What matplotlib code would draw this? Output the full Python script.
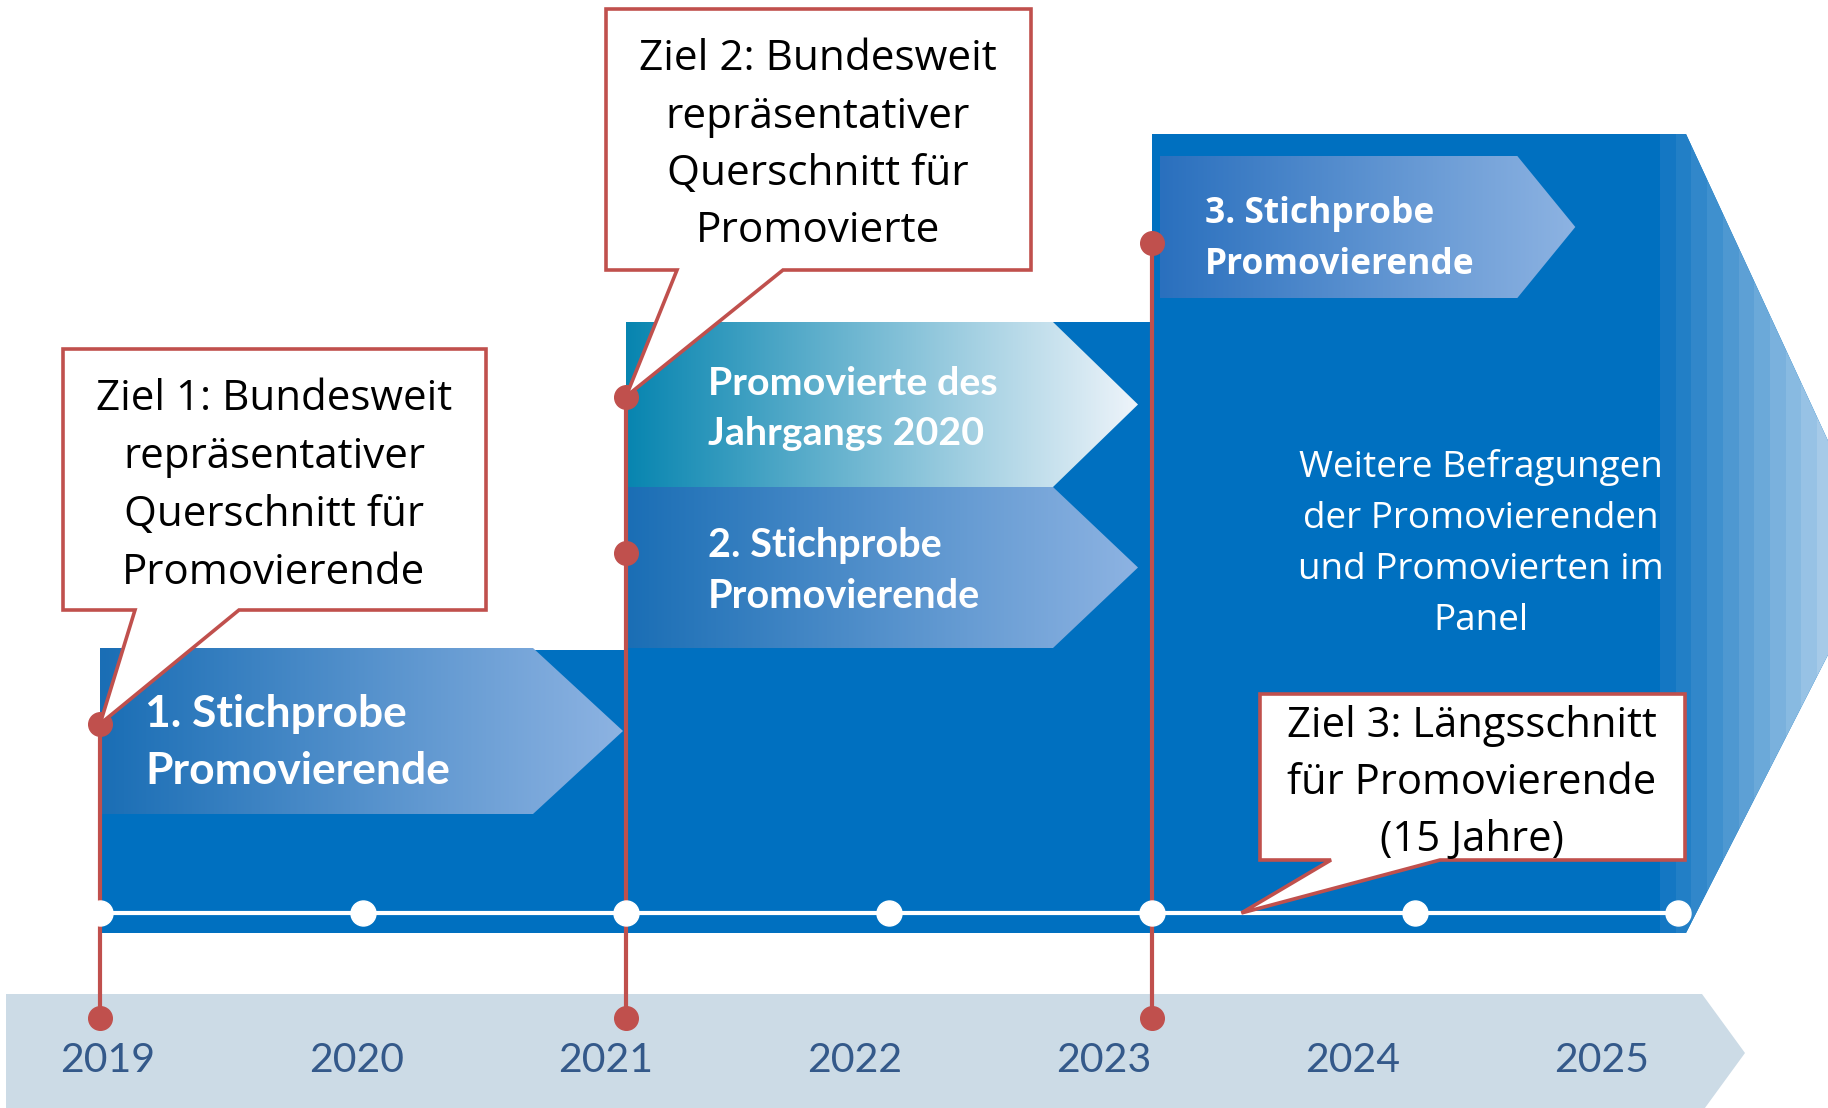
import numpy as np
import matplotlib
matplotlib.use("Agg")
import matplotlib.pyplot as plt
from matplotlib.patches import Polygon
from matplotlib.colors import LinearSegmentedColormap

# --- data ---------------------------------------------------------------
years = [2019, 2020, 2021, 2022, 2023, 2024, 2025]
phase_labels = ["1. Stichprobe\nPromovierende",
                "Promovierte des\nJahrgangs 2020",
                "2. Stichprobe\nPromovierende",
                "3. Stichprobe\nPromovierende"]
phase_start = [2019, 2021, 2021, 2023]
phase_end = [2021, 2023, 2023, 2024.64]
block_start = [2019, 2021, 2023]
goal_labels = ["Ziel 1: Bundesweit\nrepräsentativer\nQuerschnitt für\nPromovierende",
               "Ziel 2: Bundesweit\nrepräsentativer\nQuerschnitt für\nPromovierte",
               "Ziel 3: Längsschnitt\nfür Promovierende\n(15 Jahre)"]
panel_text = "Weitere Befragungen\nder Promovierenden\nund Promovierten im\nPanel"

# --- layout (pixels, y downwards) --------------------------------------
W, H = 1828, 1108
X0, STEP = 100, 263          # timeline: x of 2019 and width of one year
LX0, LSTEP = 108, 249        # year labels on the bottom band
BLUE = "#0070C0"
RED = "#C0504D"
BAND = "#CCDBE6"
YEARC = "#34598A"
TL_Y = 913                   # white timeline
BOT_Y = 1018                 # red dots on the band
BLOCK_BOTTOM = 933
TXT_DY = 4                   # small downward nudge for all text
block_top = [650, 322, 134]
phase_rows = [(648, 814), (322, 487), (487, 648), (156, 298)]
phase_depth = [90, 85, 85, 58]
phase_tip_gap = [3, 14, 14, 8]
phase_pad = [45, 82, 82, 45]
phase_inset = [0, 0, 0, 8]
phase_text_dy = [8, 0, 0, 9]
phase_dot_dy = [-7, -8, -15, 16]
phase_font = ["Lato", "Lato", "Lato", "Open Sans"]
phase_width = [305, 290, 272, 270]
phase_gap = [57, 50, 51, 51]
phase_cols = [("#1A6EB5", "#8DB3E2"), ("#0785B0", "#EEF4FA"),
              ("#1A6EB5", "#8DB3E2"), ("#2A70BE", "#8DB3E2")]
# callouts: left, right, top, bottom, base1, base2, text x, first line y, gap, width
callouts = [(63, 486, 349, 610, 135, 239, 274, 395, 58, 356),
            (606, 1031, 9, 270, 677, 783, 818, 55, 57.5, 357),
            (1260, 1685, 694, 860, 1331, 1440, 1472, 722, 57, 368)]


def year_x(y):
    return X0 + STEP * (y - 2019)


fig = plt.figure(figsize=(W / 100, H / 100), dpi=100)
ax = fig.add_axes([0, 0, 1, 1])
ax.set_xlim(0, W)
ax.set_ylim(H, 0)
ax.axis("off")
renderer = fig.canvas.get_renderer()


def text_lines(x, y0, gap, text, width, **kw):
    objs = [ax.text(x, y0 + TXT_DY + i * gap, ln, va="center", fontsize=20, **kw)
            for i, ln in enumerate(text.split("\n"))]
    w = max(o.get_window_extent(renderer).width for o in objs)
    for o in objs:
        o.set_fontsize(20 * width / w)
    return objs


def gradient(verts, c0, c1, x0, x1, y0, y1, z, steps=256):
    clip = Polygon(verts, closed=True, facecolor="none", edgecolor="none")
    ax.add_patch(clip)
    cmap = LinearSegmentedColormap.from_list("g", [c0, c1])
    im = ax.imshow(np.linspace(0, 1, steps).reshape(1, -1), cmap=cmap,
                   extent=(x0, x1, y1, y0), aspect="auto", zorder=z,
                   interpolation="nearest" if steps < 50 else "bilinear")
    im.set_clip_path(clip)


# bottom band with year labels
ax.add_patch(Polygon([(6, 994), (1702, 994), (1745, 1053), (1702, 1112), (6, 1112)],
                     closed=True, facecolor=BAND, edgecolor="none", zorder=0))
for i, yr in enumerate(years):
    text_lines(LX0 + LSTEP * i, 1057, 0, str(yr), 95, ha="center",
               color=YEARC, family="Lato")

# blue blocks
ends = block_start[1:] + [None]
for s, e, top in zip(block_start, ends, block_top):
    x0 = year_x(s)
    if e is not None:
        verts = [(x0, top), (year_x(e), top), (year_x(e), BLOCK_BOTTOM), (x0, BLOCK_BOTTOM)]
    else:
        xr = year_x(years[-1]) + 8
        verts = [(x0, top), (xr, top), (xr + 194, 553), (xr, BLOCK_BOTTOM), (x0, BLOCK_BOTTOM)]
    ax.add_patch(Polygon(verts, closed=True, facecolor=BLUE, edgecolor="none", zorder=1))
# fading tip of the last block
gradient(verts, "#1477C3", "#D2E4F4", xr - 26, xr + 194, top, BLOCK_BOTTOM, 1.5, steps=14)

# phase arrows
dots = []
for k, lab in enumerate(phase_labels):
    t0, t1 = phase_rows[k]
    x0 = year_x(phase_start[k]) + phase_inset[k]
    tip = year_x(phase_end[k]) - phase_tip_gap[k]
    body = tip - phase_depth[k]
    cy = (t0 + t1) / 2
    dots.append(cy + phase_dot_dy[k])
    verts = [(x0, t0), (body, t0), (tip, cy), (body, t1), (x0, t1)]
    c0, c1 = phase_cols[k]
    gradient(verts, c0, c1, x0, tip, t0, t1, 2)
    text_lines(x0 + phase_pad[k], cy + phase_text_dy[k] - phase_gap[k] / 2,
               phase_gap[k], lab, phase_width[k], ha="left", color="white",
               fontweight="bold", family=phase_font[k], zorder=3)

# text in the open panel
text_lines(1481, 464, 51, panel_text, 366, ha="center", color="white",
           family="Open Sans", zorder=3)

# timeline
ax.plot([year_x(years[0]), year_x(years[-1])], [TL_Y, TL_Y], color="white",
        lw=3, zorder=4, solid_capstyle="butt")
ax.plot([year_x(y) for y in years], [TL_Y] * len(years), "o", color="white",
        ms=18, zorder=6)

# red survey markers
for s in block_start:
    ys = [d for d, p in zip(dots, phase_start) if p == s]
    x = year_x(s)
    ax.plot([x, x], [min(ys), BOT_Y], color=RED, lw=3, zorder=5)
    ax.plot([x] * (len(ys) + 1), ys + [BOT_Y], "o", color=RED, ms=17, zorder=7)

# callouts
tips = [(year_x(2019), dots[0]), (year_x(2021), dots[1]), (year_x(2023.34), TL_Y)]
for (l, r, t, b, b1, b2, tx, ty, gap, wd), tip, lab in zip(callouts, tips, goal_labels):
    verts = [(l, t), (r, t), (r, b), (b2, b), tip, (b1, b), (l, b)]
    ax.add_patch(Polygon(verts, closed=True, facecolor="white", edgecolor=RED,
                         lw=2.6, joinstyle="miter", zorder=8))
    text_lines(tx, ty, gap, lab, wd, ha="center", color="black",
               family="Open Sans", zorder=9)

ax.set_xlim(0, W)
ax.set_ylim(H, 0)
fig.savefig("out.png", dpi=100)
